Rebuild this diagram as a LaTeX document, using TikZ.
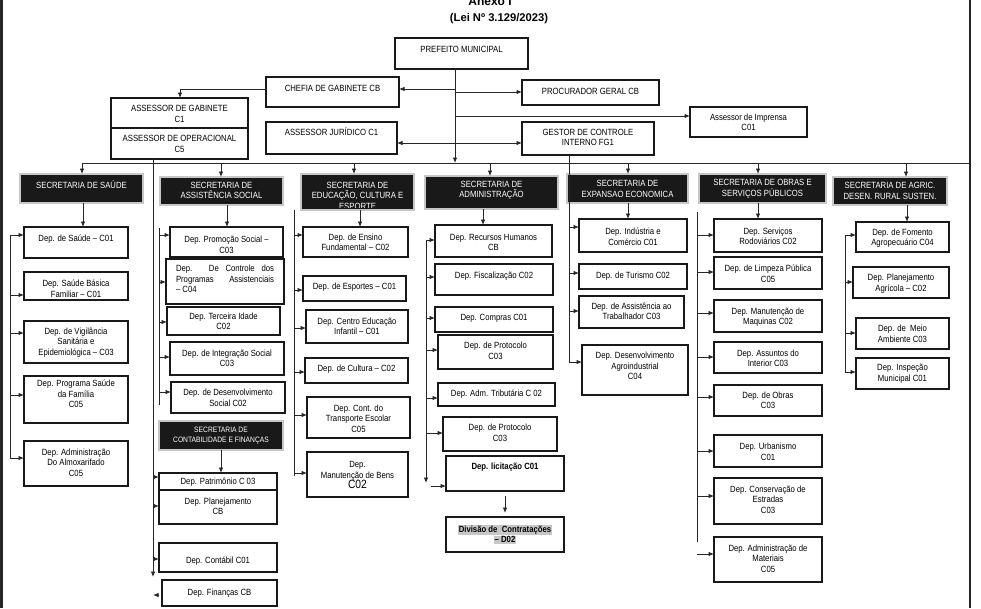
\documentclass[tikz,border=0pt]{standalone}
\usepackage{fontspec}
\setmainfont{Liberation Sans}[FakeStretch=0.86]
\newfontfamily\titlefont{Liberation Sans}
\usetikzlibrary{arrows.meta}
\newcommand\deptbox[8][]{%
  \pgfmathsetmacro\bxw{#5-#3}%
  \pgfmathsetmacro\bxh{#6-#4}%
  \pgfmathsetmacro\bxc{(#3+#5)/2}%
  \node[box,#1,minimum width=\bxw pt,minimum height=\bxh pt,anchor=north west] (#2) at (#3,#4) {};%
  \node[txt] at (\bxc,#7) {#8};%
}
\newcommand\secbox[8][]{%
  \pgfmathsetmacro\bxw{#5-#3}%
  \pgfmathsetmacro\bxh{#6-#4}%
  \pgfmathsetmacro\bxc{(#3+#5)/2}%
  \node[secb,minimum width=\bxw pt,minimum height=\bxh pt,anchor=north west] (#2) at (#3,#4) {};%
  \node[wtxt,#1] at (\bxc,#7) {#8};%
}
\newcommand\feed[3]{\draw[arr] (#1 |- 0,#3) -- (#2.west |- 0,#3);}
\setlength\fboxsep{0.6pt}
\begin{document}
\begin{tikzpicture}[x=1pt,y=-1pt,
  box/.style={draw=black!90,line width=1.5pt,inner sep=0pt,outer sep=0pt},
  secb/.style={fill=black!90,draw=black!22,line width=2.2pt,inner sep=0pt,outer sep=0pt},
  txt/.style={font=\fontsize{9}{10.5}\selectfont,align=center,inner sep=0pt,text=black},
  wtxt/.style={txt,text=white},
  ln/.style={line width=0.9pt,draw=black!85},
  arr/.style={ln,-{Latex[length=5.5pt,width=4.5pt]}},
  dbl/.style={ln,{Latex[length=5.5pt,width=4.5pt]}-{Latex[length=5.5pt,width=4.5pt]}}]
\useasboundingbox (0,0) rectangle (981,608);
\clip (0,0) rectangle (981,608);
% frame
\fill[black!85] (0,0) rectangle (3,608);
\draw[line width=1.6pt,black!85] (970,0) -- (970,608);
% title
\node[font=\titlefont\bfseries\fontsize{12}{13}\selectfont,anchor=base,inner sep=0pt] (t1) at (490,5) {Anexo I};
\node[font=\titlefont\bfseries\fontsize{11.2}{13}\selectfont,anchor=base,inner sep=0pt] (t2) at (499,21) {(Lei Nº 3.129/2023)};
% top boxes
\deptbox{pref}{395}{38}{528}{69}{49}{PREFEITO MUNICIPAL}
\deptbox{chefia}{266}{77}{399}{107}{88}{CHEFIA DE GABINETE CB}
\deptbox{proc}{522}{80}{659}{105}{91}{PROCURADOR GERAL CB}
\deptbox{imp}{690}{107}{807}{137}{122.5}{Assessor de Imprensa\\C01}
\deptbox{jur}{266}{122}{397}{154}{132}{ASSESSOR JURÍDICO C1}
\deptbox{gest}{522}{122}{654}{155}{137.5}{GESTOR DE CONTROLE\\INTERNO FG1}
\deptbox{asg}{111}{98}{248}{128}{114}{ASSESSOR DE GABINETE\\C1}
\deptbox{aso}{111}{128}{248}{159}{144}{ASSESSOR DE OPERACIONAL\\C5}
% top connectors
\coordinate (pv) at (455,69);
\coordinate (mL) at (82,163);
\coordinate (mR) at (970,163);
\draw[ln] (mL) -- (mR);
\draw[arr] (pv) -- (mL -| pv);
\draw[arr] (pv |- 0,89) -- (chefia.east |- 0,89);
\draw[arr] (pv |- 0,92) -- (proc.west |- 0,92);
\draw[arr] (pv |- 0,116) -- (imp.west |- 0,116);
\draw[dbl] (jur.east |- 0,143) -- (gest.west |- 0,143);
\draw[arr] (chefia.west |- 0,89) -| (asg.north -| 180,0);
% secretarias
\secbox{sS}{20}{174}{143}{203}{185}{SECRETARIA DE SAÚDE}
\secbox{sA}{160}{177}{283}{205}{190.5}{SECRETARIA DE\\ASSISTÊNCIA SOCIAL}
\secbox{sE}{301}{174}{414}{210}{195}{}
\begin{scope}
\clip (301,174) rectangle (414,207);
\node[wtxt] (sEt) at (357.5,195.5) {SECRETARIA DE\\EDUCAÇÃO, CULTURA E\\ESPORTE};
\end{scope}
\secbox{sD}{425}{176}{558}{209}{190.5}{SECRETARIA DE\\ADMINISTRAÇÃO}
\secbox{sX}{567}{174}{688}{203}{189}{SECRETARIA DE\\EXPANSAO ECONOMICA}
\secbox{sO}{699}{174}{826}{203}{189}{SECRETARIA DE OBRAS E\\SERVIÇOS PÚBLICOS}
\secbox{sG}{833}{177}{947}{205}{191}{SECRETARIA DE AGRIC.\\DESEN. RURAL SUSTEN.}
\secbox[font=\fontsize{7.8}{9.5}\selectfont]{sC}{159}{421}{283}{450}{435.5}{SECRETARIA DE\\CONTABILIDADE E FINANÇAS}
\foreach \n/\x in {sS/82,sA/221,sE/354,sD/490,sX/628,sO/758,sG/906}
  \draw[arr] (mL -| \x,0) -- (\n.north -| \x,0);
% Saude
\deptbox{d11}{24}{227}{128}{258}{239}{Dep. de Saúde – C01}
\deptbox{d12}{24}{272}{128}{300}{288.5}{Dep. Saúde Básica\\Familiar – C01}
\deptbox{d13}{24}{321}{128}{363}{342.5}{Dep. de Vigilância\\Sanitária e\\Epidemiológica – C03}
\deptbox{d14}{24}{376}{128}{423}{394}{Dep. Programa Saúde\\da Família\\C05}
\deptbox{d15}{24}{441}{128}{486}{462.5}{Dep. Administração\\Do Almoxarifado\\C05}
\draw[arr] (sS.south -| 83,0) -- (d11.north -| 83,0);
\coordinate (bS1) at (10,235); \coordinate (bS2) at (10,458);
\draw[ln] (bS1) -- (bS2);
\feed{bS1}{d11}{235}\feed{bS1}{d12}{295}\feed{bS1}{d13}{333}\feed{bS1}{d14}{395}\feed{bS1}{d15}{458}
% Assistencia
\deptbox{d21}{170}{227}{283}{257}{245}{Dep. Promoção Social –\\C03}
\deptbox{d22}{166}{259}{284}{304}{279}{\makebox[98pt][s]{Dep. De Controle dos}\\\makebox[98pt][s]{Programas Assistenciais}\\\makebox[98pt][l]{– C04}}
\deptbox{d23}{167}{307}{280}{335}{321.5}{Dep. Terceira Idade\\C02}
\deptbox{d24}{170}{342}{284}{375}{358.5}{Dep. de Integração Social\\C03}
\deptbox{d25}{171}{382}{285}{413}{398}{Dep. de Desenvolvimento\\Social C02}
\draw[arr] (sA.south -| 227,0) -- (d21.north -| 227,0);
\coordinate (bA1) at (159,228); \coordinate (bA2) at (159,405);
\draw[ln] (bA1) -- (bA2);
\feed{bA1}{d21}{235}\feed{bA1}{d22}{282}\feed{bA1}{d23}{322}\feed{bA1}{d24}{357}\feed{bA1}{d25}{392}
% Contabilidade
\deptbox{d31}{159}{473}{277}{490}{482}{Dep. Patrimônio C 03}
\deptbox{d32}{159}{490}{277}{524}{506.5}{Dep. Planejamento\\CB}
\deptbox{d33}{159}{543}{277}{572}{561}{Dep. Contábil C01}
\deptbox{d34}{162}{580}{277}{606}{593}{Dep. Finanças CB}
\draw[arr] (sC.south -| 221,0) -- (d31.north -| 221,0);
\coordinate (bC1) at (153,159); \coordinate (bC2) at (153,577);
\draw[arr] (aso.south -| bC1) -- (bC2);
\feed{bC1}{d31}{477}\feed{bC1}{d32}{506}\feed{bC1}{d33}{559}
\coordinate (fa) at (159,595);
\draw[arr] (fa) -- ++(-6,0);
% Educacao
\deptbox{d41}{303}{227}{408}{257}{242.5}{Dep. de Ensino\\Fundamental – C02}
\deptbox{d42}{303}{276}{406}{301}{287}{Dep. de Esportes – C01}
\deptbox{d43}{306}{310}{408}{343}{326.5}{Dep. Centro Educação\\Infantil – C01}
\deptbox{d44}{305}{358}{408}{383}{369}{Dep. de Cultura – C02}
\deptbox{d45}{307}{397}{410}{438}{418.5}{Dep. Cont. do\\Transporte Escolar\\C05}
\deptbox{d46}{307}{452}{408}{497}{475}{Dep.\\Manutenção de Bens\\{\fontsize{12}{13}\selectfont C02}}
\draw[arr] (sE.south -| 360,0) -- (d41.north -| 360,0);
\coordinate (bE1) at (294,210); \coordinate (bE2) at (294,476);
\draw[ln] (bE1) -- (bE2);
\feed{bE1}{d41}{235}\feed{bE1}{d42}{290}\feed{bE1}{d43}{328}\feed{bE1}{d44}{372}\feed{bE1}{d45}{415}\feed{bE1}{d46}{473}
% Administracao
\deptbox{d51}{435}{225}{552}{257}{242.5}{Dep. Recursos Humanos\\CB}
\deptbox{d52}{435}{264}{553}{295}{276}{Dep. Fiscalização C02}
\deptbox{d53}{435}{307}{553}{332}{318}{Dep. Compras C01}
\deptbox{d54}{438}{335}{553}{369}{351}{Dep. de Protocolo\\C03}
\deptbox{d55}{438}{383}{555}{406}{394}{Dep. Adm. Tributária C 02}
\deptbox{d56}{443}{417}{557}{451}{433}{Dep. de Protocolo\\C03}
\deptbox{d57}{446}{456}{564}{491}{467}{\bfseries Dep. licitação C01}
\deptbox{d58}{446}{517}{564}{552}{534.5}{\colorbox{black!22}{\bfseries Divisão de\ \ Contratações}\\\colorbox{black!22}{\bfseries – D02}}
\draw[arr] (sD.south -| 483,0) -- (d51.north -| 483,0);
\coordinate (bD1) at (426,240); \coordinate (bD2) at (426,483);
\draw[arr] (bD1) -- (bD2);
\feed{bD1}{d51}{240}\feed{bD1}{d52}{277}\feed{bD1}{d53}{318}\feed{bD1}{d54}{350}\feed{bD1}{d55}{398}\feed{bD1}{d56}{433}
\coordinate (lic) at (431,486);
\draw[arr] (lic) -- (d57.west |- lic);
\draw[arr,shorten <=5pt,shorten >=4pt] (d57.south) -- (d58.north);
% Expansao
\deptbox{d61}{579}{219}{687}{252}{236.5}{Dep. Indústria e\\Comércio C01}
\deptbox{d62}{579}{264}{687}{289}{276}{Dep. de Turismo C02}
\deptbox{d63}{579}{296}{684}{328}{311.5}{Dep. de Assistência ao\\Trabalhador C03}
\deptbox{d64}{582}{345}{688}{395}{366}{Dep. Desenvolvimento\\Agroindustrial\\C04}
\draw[arr] (sX.south -| 628,0) -- (d61.north -| 628,0);
\coordinate (bX1) at (569,155); \coordinate (bX2) at (569,362);
\draw[ln] (gest.south -| bX1) -- (bX2);
\feed{bX1}{d61}{227}\feed{bX1}{d62}{273}\feed{bX1}{d63}{311}\feed{bX1}{d64}{362}
% Obras
\deptbox{d71}{714}{219}{822}{252}{236.5}{Dep. Serviços\\Rodoviários C02}
\deptbox{d72}{714}{257}{822}{289}{273.5}{Dep. de Limpeza Pública\\C05}
\deptbox{d73}{714}{300}{822}{332}{317}{Dep. Manutenção de\\Maquinas C02}
\deptbox{d74}{714}{342}{822}{373}{358.5}{Dep. Assuntos do\\Interior C03}
\deptbox{d75}{714}{385}{822}{416}{400.5}{Dep. de Obras\\C03}
\deptbox{d76}{714}{435}{822}{467}{452}{Dep. Urbanismo\\C01}
\deptbox{d77}{714}{478}{822}{524}{499.5}{Dep. Conservação de\\Estradas\\C03}
\deptbox{d78}{714}{537}{822}{582}{558.5}{Dep. Administração de\\Materiais\\C05}
\draw[arr] (sO.south -| 758,0) -- (d71.north -| 758,0);
\coordinate (bO1) at (697,212); \coordinate (bO2) at (697,542);
\draw[ln] (bO1) -- (bO2);
\feed{bO1}{d71}{235}\feed{bO1}{d72}{272}\feed{bO1}{d73}{313}\feed{bO1}{d74}{357}\feed{bO1}{d75}{397}\feed{bO1}{d76}{451}\feed{bO1}{d77}{496}\feed{bO1}{d78}{554}
% Agric
\deptbox{d81}{856}{222}{949}{252}{238}{Dep. de Fomento\\Agropecuário C04}
\deptbox{d82}{853}{267}{949}{298}{283.5}{Dep. Planejamento\\Agrícola – C02}
\deptbox{d83}{856}{318}{949}{349}{334}{Dep. de\ \ Meio\\Ambiente C03}
\deptbox{d84}{856}{358}{949}{389}{373.5}{Dep. Inspeção\\Municipal C01}
\draw[arr] (sG.south -| 907,0) -- (d81.north -| 907,0);
\coordinate (bG1) at (845,235); \coordinate (bG2) at (845,373);
\draw[ln] (bG1) -- (bG2);
\feed{bG1}{d81}{235}\feed{bG1}{d82}{282}\feed{bG1}{d83}{333}\feed{bG1}{d84}{372}
\end{tikzpicture}
\end{document}
